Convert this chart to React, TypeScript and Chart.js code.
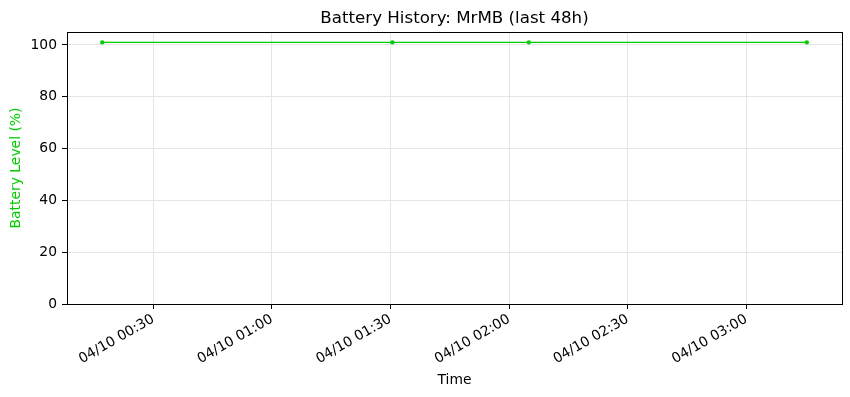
import React, { useEffect, useRef } from "react";
import { Chart, registerables } from "chart.js";

Chart.register(...registerables);

// minutes after 04/10 00:00
const timeMinutes = [17.1, 90.5, 125.0, 195.3];
const batteryLevels = [101, 101, 101, 101];
const xTickMinutes = [30, 60, 90, 120, 150, 180];
const yTickValues = [0, 20, 40, 60, 80, 100];
const datePrefix = "04/10";
const titleText = "Battery History: MrMB (last 48h)";
const yAxisLabel = "Battery Level (%)";
const xAxisLabel = "Time";

const GREEN = "#00cc00";
const FONT = "'DejaVu Sans', sans-serif";

function fmtTime(m: number): string {
  const h = Math.floor(m / 60);
  const mm = Math.round(m - h * 60);
  return `${datePrefix} ${String(h).padStart(2, "0")}:${String(mm).padStart(2, "0")}`;
}

const frame = {
  id: "frame",
  afterDatasetsDraw(chart: any) {
    const { ctx, chartArea } = chart;
    ctx.save();
    ctx.strokeStyle = "#000";
    ctx.lineWidth = 1;
    ctx.strokeRect(
      Math.round(chartArea.left) + 0.5,
      Math.round(chartArea.top) + 0.5,
      Math.round(chartArea.right - chartArea.left),
      Math.round(chartArea.bottom - chartArea.top)
    );
    ctx.restore();
  },
};

export default function App() {
  const ref = useRef<HTMLCanvasElement | null>(null);
  useEffect(() => {
    document.body.style.margin = "0";
    const span = timeMinutes[timeMinutes.length - 1] - timeMinutes[0];
    const xMin = timeMinutes[0] - span * 0.05;
    const xMax = timeMinutes[timeMinutes.length - 1] + span * 0.05;
    const chart = new Chart(ref.current as HTMLCanvasElement, {
      type: "line",
      data: {
        datasets: [
          {
            data: timeMinutes.map((t, i) => ({ x: t, y: batteryLevels[i] })),
            borderColor: GREEN,
            backgroundColor: GREEN,
            borderWidth: 1.2,
            pointRadius: 2.2,
            pointBorderWidth: 0,
            pointBackgroundColor: GREEN,
            fill: false,
            tension: 0,
          },
        ],
      },
      plugins: [frame],
      options: {
        responsive: false,
        animation: false,
        layout: { padding: { left: 0, right: 8, top: 0, bottom: 0 } },
        plugins: {
          legend: { display: false },
          tooltip: { enabled: false },
          title: {
            display: true,
            fullSize: false,
            text: titleText,
            color: "#000",
            font: { family: FONT, size: 16.67, weight: "normal", lineHeight: 1.2 },
            padding: { top: 9, bottom: 3 },
          },
        },
        scales: {
          x: {
            type: "linear",
            min: xMin,
            max: xMax,
            afterBuildTicks: (s: any) => {
              s.ticks = xTickMinutes.map((v) => ({ value: v }));
            },
            afterFit: (s: any) => {
              s.height = 93;
            },
            ticks: {
              minRotation: 30,
              maxRotation: 30,
              autoSkip: false,
              color: "#000",
              padding: 2,
              font: { family: FONT, size: 13.89 },
              callback: (v: any) => fmtTime(Number(v)),
            },
            grid: {
              color: "#e5e5e5",
              lineWidth: 1,
              tickColor: "#000",
              tickLength: 5,
            },
            border: { display: true, color: "#000", width: 1 },
            title: {
              display: true,
              text: xAxisLabel,
              color: "#000",
              font: { family: FONT, size: 13.89, lineHeight: 1.2 },
              padding: { top: 0, bottom: 8 },
            },
          },
          y: {
            type: "linear",
            min: 0,
            max: 105,
            afterBuildTicks: (s: any) => {
              s.ticks = yTickValues.map((v) => ({ value: v }));
            },
            afterFit: (s: any) => {
              s.width = 67;
            },
            ticks: {
              color: "#000",
              padding: 5,
              font: { family: FONT, size: 13.89 },
            },
            grid: {
              color: "#e5e5e5",
              lineWidth: 1,
              tickColor: "#000",
              tickLength: 5,
            },
            border: { display: true, color: "#000", width: 1 },
            title: {
              display: true,
              text: yAxisLabel,
              color: GREEN,
              font: { family: FONT, size: 13.89, lineHeight: 1.2 },
              padding: { top: 8, bottom: 0 },
            },
          },
        },
      },
    } as any);
    return () => chart.destroy();
  }, []);
  return (
    <div style={{ width: 850, height: 397 }}>
      <canvas ref={ref} width={850} height={397} />
    </div>
  );
}
